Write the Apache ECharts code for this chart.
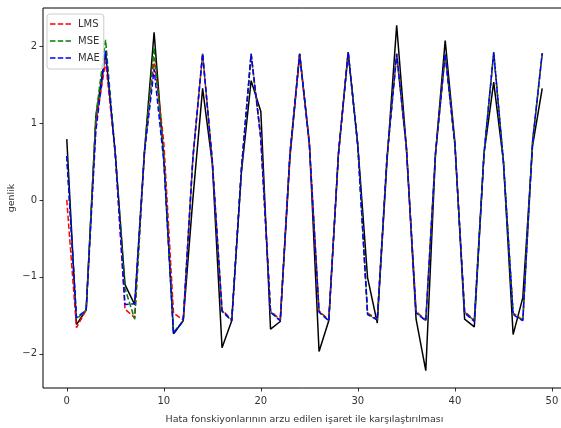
<!DOCTYPE html>
<html>
<head>
<meta charset="utf-8">
<script src="https://cdn.jsdelivr.net/npm/echarts@6/dist/echarts.min.js"></script>
<style>
html,body{margin:0;padding:0;background:#fff;}
#chart{width:561px;height:428px;}
</style>
</head>
<body>
<div id="chart"></div>
<script>
var xIndex = [0,1,2,3,4,5,6,7,8,9,10,11,12,13,14,15,16,17,18,19,20,21,22,23,24,25,26,27,28,29,30,31,32,33,34,35,36,37,38,39,40,41,42,43,44,45,46,47,48,49];

var desired = [0.79,-1.62,-1.43,1.08,1.92,0.6,-1.1,-1.36,0.62,2.18,
  0.55,-1.74,-1.57,0.02,1.45,0.47,-1.92,-1.57,0.36,1.55,
  1.15,-1.68,-1.58,0.55,1.9,0.75,-1.97,-1.57,0.6,1.92,
  0.7,-1.01,-1.6,0.5,2.27,0.68,-1.55,-2.22,0.6,2.07,
  0.75,-1.55,-1.65,0.6,1.53,0.5,-1.75,-1.27,0.7,1.45];

var lms = [0.0,-1.66,-1.43,1.0,1.8,0.6,-1.42,-1.53,0.6,1.84,
  0.75,-1.47,-1.56,0.55,1.9,0.5,-1.43,-1.56,0.4,1.89,
  0.8,-1.44,-1.56,0.6,1.89,0.72,-1.44,-1.56,0.6,1.91,
  0.7,-1.47,-1.55,0.55,1.89,0.68,-1.45,-1.56,0.6,1.89,
  0.72,-1.45,-1.56,0.6,1.91,0.5,-1.47,-1.56,0.75,1.9];

var mse = [0.57,-1.55,-1.43,1.1,2.08,0.6,-1.15,-1.55,0.62,1.98,
  0.55,-1.72,-1.57,0.55,1.9,0.5,-1.45,-1.57,0.4,1.9,
  0.8,-1.45,-1.57,0.6,1.9,0.72,-1.45,-1.57,0.6,1.92,
  0.7,-1.48,-1.56,0.55,1.9,0.68,-1.46,-1.57,0.6,1.9,
  0.72,-1.46,-1.57,0.6,1.92,0.5,-1.48,-1.57,0.75,1.91];

var mae = [0.57,-1.53,-1.43,0.9,1.94,0.6,-1.36,-1.35,0.6,1.70,
  0.5,-1.74,-1.57,0.55,1.9,0.5,-1.44,-1.57,0.4,1.9,
  0.8,-1.46,-1.57,0.6,1.9,0.72,-1.46,-1.57,0.6,1.92,
  0.7,-1.49,-1.56,0.55,1.9,0.68,-1.47,-1.57,0.6,1.9,
  0.72,-1.47,-1.58,0.6,1.92,0.5,-1.49,-1.57,0.75,1.91];

var xTicks = [0,10,20,30,40,50];
var yTicks = [-2,-1,0,1,2];

function pairs(vals){ return xIndex.map(function(x,i){ return [x, vals[i]]; }); }
function fmt(v){ return v < 0 ? '\u2212' + (-v) : String(v); }

var FONT = '"DejaVu Sans", sans-serif';
var dash = [5.5, 2.4];
var dashIcon = 'path://M0,0h5.5v1.5h-5.5z M7.8,0h5.5v1.5h-5.5z M15.6,0h5.5v1.5h-5.5z';

function dashed(name, color, vals){
  return {
    name: name, type: 'line', data: pairs(vals), symbol: 'none', showSymbol: false,
    lineStyle: {color: color, width: 1.5, type: dash},
    itemStyle: {color: color},
    animation: false, z: 3
  };
}

var chart = echarts.init(document.getElementById('chart'), null, {renderer: 'canvas'});
chart.setOption({
  backgroundColor: '#ffffff',
  animation: false,
  grid: {left: 43, top: 8, width: 523, height: 380, containLabel: false, outerBoundsMode: 'none',
    show: true, borderColor: '#000', borderWidth: 1, backgroundColor: 'transparent'},
  xAxis: {
    type: 'value', min: -2.45, max: 51.45, splitNumber: 5,
    axisLine: {show: false, onZero: false},
    axisTick: {show: true, length: 3.5, lineStyle: {color: '#000', width: 0.8}},
    axisLabel: {color: '#333', fontFamily: FONT, fontSize: 10, margin: 8, showMinLabel: false, showMaxLabel: false,
      formatter: function(v){ return xTicks.indexOf(v) >= 0 ? fmt(v) : ''; }},
    splitLine: {show: false},
    name: 'Hata fonskiyonlarının arzu edilen işaret ile karşılaştırılması',
    nameLocation: 'middle', nameGap: 27, nameMoveOverlap: false,
    nameTextStyle: {color: '#333', fontFamily: FONT, fontSize: 9.5}
  },
  yAxis: {
    type: 'value', min: -2.4445, max: 2.4945, splitNumber: 5,
    axisLine: {show: false, onZero: false},
    axisTick: {show: true, length: 3.5, lineStyle: {color: '#000', width: 0.8}},
    axisLabel: {color: '#333', fontFamily: FONT, fontSize: 10, margin: 6, showMinLabel: false, showMaxLabel: false,
      formatter: function(v){ return yTicks.indexOf(v) >= 0 ? fmt(v) : ''; }},
    splitLine: {show: false},
    name: 'genlik', nameLocation: 'middle', nameGap: 26, nameRotate: 90, nameMoveOverlap: false,
    nameTextStyle: {color: '#333', fontFamily: FONT, fontSize: 9.5}
  },
  legend: {
    orient: 'vertical', left: 47, top: 14,
    padding: [4, 4, 5, 3],
    icon: dashIcon,
    itemWidth: 21, itemHeight: 1.5, itemGap: 5,
    backgroundColor: 'rgba(255,255,255,0.8)', borderColor: '#cccccc', borderWidth: 1, borderRadius: 3,
    textStyle: {color: '#333', fontFamily: FONT, fontSize: 10, lineHeight: 12, padding: [0, 0, 0, 2]},
    data: ['LMS', 'MSE', 'MAE']
  },
  series: [
    {name: 'desired', type: 'line', data: pairs(desired), symbol: 'none', showSymbol: false,
     lineStyle: {color: '#000', width: 1.5}, itemStyle: {color: '#000'}, z: 2},
    dashed('LMS', '#ff0000', lms),
    dashed('MSE', '#008000', mse),
    dashed('MAE', '#0000ff', mae)
  ]
});
</script>
</body>
</html>
